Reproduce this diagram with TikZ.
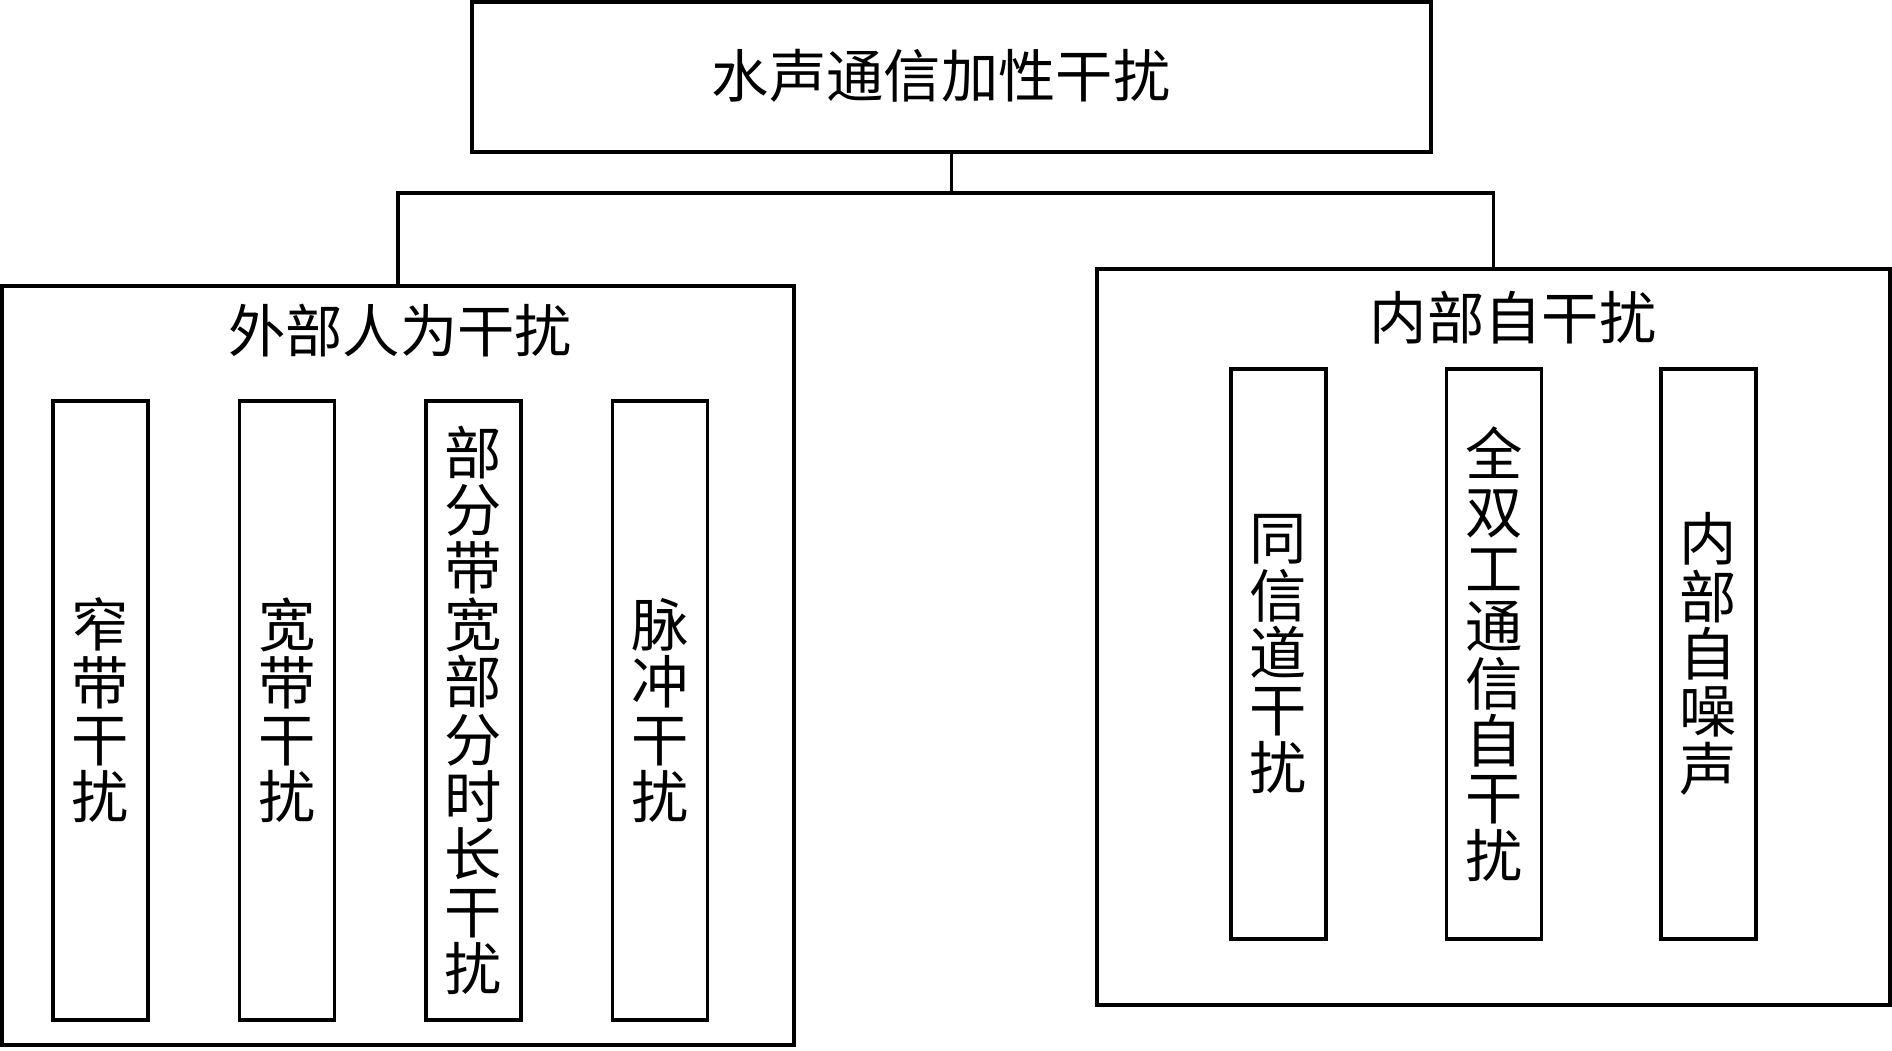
\documentclass[tikz,border=0pt]{standalone}
\usepackage{fontspec}
\newfontfamily\cjk{Noto Sans CJK SC}
\begin{document}
\lineskiplimit=-30pt\relax
\begin{tikzpicture}[x=0.75pt,y=-0.75pt,
  box/.style={draw=black,line width=2.6pt,rectangle,inner sep=0pt,outer sep=0pt,fill=none},
  title/.style={font=\cjk\fontsize{43}{43}\selectfont,inner sep=0pt},
  vtext/.style={font=\cjk\fontsize{43}{43}\selectfont,align=center,inner sep=0pt},
  conn/.style={draw=black,line width=2.4pt}]
\useasboundingbox (0,0) rectangle (1892,1050);
% top
\node[box,minimum width=959*0.75pt,minimum height=150*0.75pt] (top) at (951.5,77) {};
\node[title] (toptxt) at (941,76) {水声通信加性干扰};
% outer boxes
\node[box,minimum width=792*0.75pt,minimum height=759*0.75pt] (ext) at (398,665.5) {};
\node[title] (exttxt) at (400,331) {外部人为干扰};
\node[box,minimum width=793*0.75pt,minimum height=736*0.75pt] (int) at (1493.5,637) {};
\node[title] (inttxt) at (1513,318) {内部自干扰};
% connectors
\coordinate (bus) at (0,193);
\draw[conn] (top.south) -- (top.south |- bus);
\draw[conn] (ext.north) -- (ext.north |- bus) -- (int.north |- bus) -- (int.north);
% left inner boxes
\foreach \n/\x in {a/100.5,b/287,c/473.5,d/660}{
  \node[box,minimum width=95*0.75pt,minimum height=619*0.75pt] (\n) at (\x,710.5) {};
}
\node[vtext] (ta) at (a) {窄\\带\\干\\扰};
\node[vtext] (tb) at (b) {宽\\带\\干\\扰};
\node[vtext] (tc) at (c) {部\\分\\带\\宽\\部\\分\\时\\长\\干\\扰};
\node[vtext] (td) at (d) {脉\\冲\\干\\扰};
% right inner boxes
\foreach \n/\x in {e/1278.5,f/1494,g/1708.5}{
  \node[box,minimum width=95*0.75pt,minimum height=570*0.75pt] (\n) at (\x,654) {};
}
\node[vtext] (te) at (e) {同\\信\\道\\干\\扰};
\node[vtext] (tf) at (f) {全\\双\\工\\通\\信\\自\\干\\扰};
\node[vtext] (tg) at (g) {内\\部\\自\\噪\\声};
\end{tikzpicture}
\end{document}
